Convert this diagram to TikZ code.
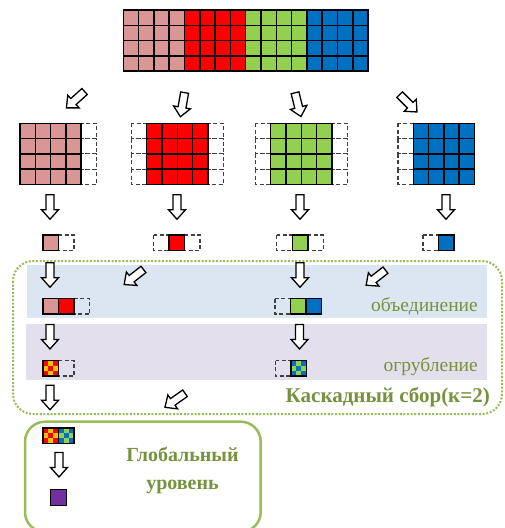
\documentclass[tikz,border=0pt]{standalone}
\usepackage{fontspec}
\setmainfont{Liberation Serif}
\usetikzlibrary{calc}

\definecolor{pinkc}{HTML}{DA9694}
\definecolor{redc}{HTML}{FF0000}
\definecolor{greenc}{HTML}{92D050}
\definecolor{bluec}{HTML}{0070C0}
\definecolor{orangec}{HTML}{FFC000}
\definecolor{purplec}{HTML}{7030A0}
\definecolor{olive}{HTML}{76923C}
\definecolor{framegreen}{HTML}{9BBB59}
\definecolor{bandblue}{HTML}{DCE6F2}
\definecolor{bandpurple}{HTML}{E4DFEC}

% cell edge length of the partition grids
\newcommand\cellsz{15.3}

% filled grid: x, y (top-left), columns, rows, colour
\newcommand\gridblock[5]{%
  \foreach \i in {1,...,#3}{\foreach \j in {1,...,#4}{%
    \draw[cellline,fill=#5] ({#1+(\i-1)*\cellsz},{#2+(\j-1)*\cellsz}) rectangle +(\cellsz,\cellsz);}}}
% dashed halo column: x, y (top-left), rows
\newcommand\ghostcol[3]{%
  \foreach \j in {1,...,#3}{%
    \draw[ghost] (#1,{#2+(\j-1)*\cellsz}) rectangle +(\cellsz,\cellsz);}}
% single small cell: x, y, size, colour
\newcommand\onecell[4]{\draw[cellline,fill=#4] (#1,#2) rectangle +(#3,#3);}
\newcommand\onehalo[3]{\draw[ghost] (#1,#2) rectangle +(#3,#3);}
% 3x3 checker cell: x, y, size, colour a, colour b
\newcommand\checkcell[5]{%
  \foreach \i in {0,1,2}{\foreach \j in {0,1,2}{%
    \pgfmathtruncatemacro\parity{mod(\i+\j,2)}%
    \ifnum\parity=0 \def\cc{#4}\else\def\cc{#5}\fi
    \fill[\cc] ({#1+\i*#3/3},{#2+\j*#3/3}) rectangle +({#3/3},{#3/3});}}%
  \draw[cellline] (#1,#2) rectangle +(#3,#3);}

\tikzset{
  cellline/.style={draw=black,line width=1.5pt},
  ghost/.style={draw=black!75,line width=1.1pt,dash pattern=on 4pt off 2.5pt},
  arrowline/.style={draw=black,fill=white,line width=1.3pt,line join=miter},
  barrow/.pic={\draw[arrowline] (-12.25,-4) -- (2.75,-4) -- (2.75,-8.5) -- (12.25,0)
      -- (2.75,8.5) -- (2.75,4) -- (-12.25,4) -- cycle;},
  lbl/.style={text=olive,font=\fontsize{19.5}{22}\selectfont,inner sep=0pt},
  lblb/.style={text=olive,font=\fontsize{20}{27.5}\selectfont\bfseries,inner sep=0pt},
}

\begin{document}
\begin{tikzpicture}[x=1pt,y=-1pt]
\useasboundingbox (0,0) rectangle (505,528);

% stage bands of the cascade
\fill[bandblue] (26.7,265) rectangle (487.3,318.3);
\fill[bandpurple] (26,324) rectangle (487.3,380);
\draw[framegreen,line width=2pt,dash pattern=on 2pt off 1.6pt,rounded corners=20pt]
  (13,261) rectangle (502,414);

% full domain
\gridblock{123.3}{10}{4}{4}{pinkc}
\gridblock{184.5}{10}{4}{4}{redc}
\gridblock{245.7}{10}{4}{4}{greenc}
\gridblock{306.9}{10}{4}{4}{bluec}

% subdomains with halo columns
\ghostcol{81.2}{123.3}{4}
\gridblock{20}{123.3}{4}{4}{pinkc}
\ghostcol{131.4}{123.3}{4}
\ghostcol{207.9}{123.3}{4}
\gridblock{146.7}{123.3}{4}{4}{redc}
\ghostcol{255.4}{123.3}{4}
\ghostcol{331.9}{123.3}{4}
\gridblock{270.7}{123.3}{4}{4}{greenc}
\ghostcol{398}{123.3}{4}
\gridblock{413.3}{123.3}{4}{4}{bluec}

% reduced subdomains
\onehalo{58.5}{235}{15.5}
\onecell{43}{235}{15.5}{pinkc}
\onehalo{153.5}{235}{15.5}
\onehalo{184.5}{235}{15.5}
\onecell{169}{235}{15.5}{redc}
\onehalo{276.8}{235}{15.5}
\onehalo{307.8}{235}{15.5}
\onecell{292.3}{235}{15.5}{greenc}
\onehalo{423}{235}{15.5}
\onecell{438.5}{235}{15.5}{bluec}

% merge stage
\onehalo{74}{298.5}{15.5}
\onecell{43}{298.5}{15.5}{pinkc}
\onecell{58.5}{298.5}{15.5}{redc}
\onehalo{275}{298.5}{15.5}
\onecell{290.5}{298.5}{15.5}{greenc}
\onecell{306}{298.5}{15.5}{bluec}

% coarsening stage
\onehalo{58.5}{360.5}{15.5}
\checkcell{43}{360.5}{15.5}{redc}{orangec}
\onehalo{275.5}{360.5}{15.5}
\checkcell{291}{360.5}{15.5}{bluec}{greenc}

% block arrows
\pic[rotate=-138] at (75.5,99.7) {barrow};
\pic[rotate=-100] at (182.5,104.7) {barrow};
\pic[rotate=-76] at (298,104.7) {barrow};
\pic[rotate=-45] at (408.3,103.3) {barrow};
\foreach \xx in {50,177,300,446} {\pic[rotate=-90] at (\xx,207) {barrow};}
\pic[rotate=-90] at (50,275) {barrow};
\pic[rotate=-90] at (300,275) {barrow};
\pic[rotate=-142] at (133.8,277) {barrow};
\pic[rotate=-142] at (375.8,277.7) {barrow};
\pic[rotate=-90] at (50,336.7) {barrow};
\pic[rotate=-90] at (299.5,336.7) {barrow};
\pic[rotate=-90] at (50,397.5) {barrow};
\pic[rotate=-145] at (175,400.3) {barrow};

\node[lbl,anchor=east] (merge) at (478,306.7) {объединение};
\node[lbl,anchor=east] (coarse) at (478,366.7) {огрубление};
\node[lblb,font=\fontsize{21}{27.5}\selectfont\bfseries,anchor=east] (cascade) at (490,397) {Каскадный сбор(к=2)};

% global level
\begin{scope}
\clip (0,0) rectangle (505,528);
\draw[framegreen,line width=2.5pt,rounded corners=20pt] (25,421.7) rectangle (260.7,532);
\end{scope}
\checkcell{43}{428}{15.5}{redc}{orangec}
\checkcell{58.5}{428}{15.5}{bluec}{greenc}
\pic[rotate=-90] at (59,464.7) {barrow};
\onecell{50.7}{489.5}{16}{purplec}
\node[lblb,align=center] (global) at (182.5,470.5) {Глобальный\\уровень};
\end{tikzpicture}
\end{document}
